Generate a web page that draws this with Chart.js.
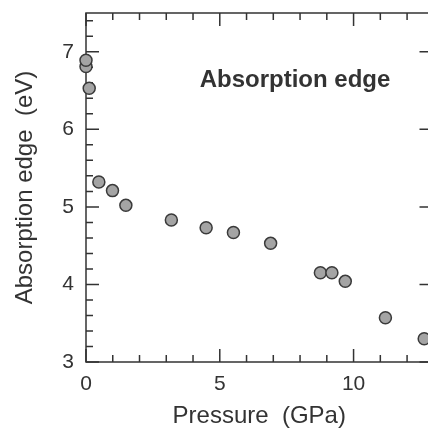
<!DOCTYPE html>
<html lang="en">
<head>
    <meta charset="UTF-8" />
    <title>Absorption edge</title>
    <script src="https://cdn.jsdelivr.net/npm/chart.js"></script>
    <style>
        html, body {
            margin: 0;
            padding: 0;
            background: #fff;
            overflow: hidden;
            width: 428px;
            height: 431px;
        }
        #wrap {
            width: 440px;
            height: 431px;
        }
    </style>
</head>
<body>
    <div id="wrap"><canvas id="edgeChart" width="440" height="431"></canvas></div>

    <script>
        // data
        const pressure = [0, 0, 0.12, 0.48, 0.99, 1.49, 3.19, 4.49, 5.51, 6.9, 8.76, 9.19, 9.69, 11.19, 12.64];
        const edgeEv   = [6.81, 6.89, 6.53, 5.32, 5.21, 5.02, 4.83, 4.73, 4.67, 4.53, 4.15, 4.15, 4.04, 3.57, 3.30];
        const xTicks = [0, 5, 10];
        const yTicks = [3, 4, 5, 6, 7];

        const ink = '#333333';
        const font = '"Liberation Sans", Arial, sans-serif';

        // frame with inward ticks (minor ticks only on left / top / bottom)
        const framePlugin = {
            id: 'frame',
            beforeDatasetsDraw(chart) {
                const { ctx, chartArea: a, scales: { x, y } } = chart;
                ctx.save();
                ctx.strokeStyle = ink;
                ctx.lineWidth = 1.5;
                ctx.beginPath();
                ctx.rect(a.left, a.top, a.right - a.left, a.bottom - a.top);
                ctx.stroke();

                ctx.beginPath();
                for (let v = 0; v <= x.max + 0.001; v += 1) {
                    const px = x.getPixelForValue(v);
                    const len = v % 5 === 0 ? 13 : 7;
                    ctx.moveTo(px, a.bottom); ctx.lineTo(px, a.bottom - len);
                    ctx.moveTo(px, a.top); ctx.lineTo(px, a.top + len);
                }
                for (let i = 0; i * 0.2 <= y.max - y.min + 0.001; i++) {
                    const py = y.getPixelForValue(y.min + i * 0.2);
                    const major = i % 5 === 0;
                    ctx.moveTo(a.left, py); ctx.lineTo(a.left + (major ? 13 : 7), py);
                    if (major) { ctx.moveTo(a.right, py); ctx.lineTo(a.right - 13, py); }
                }
                ctx.stroke();

                ctx.fillStyle = ink;
                ctx.font = 'bold 24px ' + font;
                ctx.textAlign = 'center';
                ctx.textBaseline = 'middle';
                ctx.fillText('Absorption edge', 295, 80);
                ctx.restore();
            }
        };

        new Chart(document.getElementById('edgeChart'), {
            type: 'scatter',
            data: {
                datasets: [{
                    data: pressure.map((p, i) => ({ x: p, y: edgeEv[i] })),
                    backgroundColor: '#a4a4a4',
                    borderColor: '#3a3a3a',
                    borderWidth: 1.5,
                    pointRadius: 6,
                    clip: false
                }]
            },
            options: {
                responsive: false,
                animation: false,
                layout: { padding: { top: 13, right: 6, left: 0, bottom: 0 } },
                plugins: {
                    legend: { display: false },
                    tooltip: { enabled: false }
                },
                scales: {
                    x: {
                        type: 'linear',
                        min: 0,
                        max: 12.95,
                        afterFit: s => { s.height = 69; s.paddingLeft = 0; s.paddingRight = 0; },
                        afterBuildTicks: s => { s.ticks = xTicks.map(v => ({ value: v })); },
                        grid: { display: false, drawTicks: false },
                        border: { display: false },
                        ticks: { color: ink, padding: 10, font: { family: font, size: 21 } },
                        title: {
                            display: true,
                            text: 'Pressure  (GPa)',
                            color: ink,
                            font: { family: font, size: 24 },
                            padding: { top: 0, bottom: 0 }
                        }
                    },
                    y: {
                        min: 3,
                        max: 7.5,
                        afterFit: s => { s.width = 86; s.paddingTop = 0; s.paddingBottom = 0; },
                        afterBuildTicks: s => { s.ticks = yTicks.map(v => ({ value: v })); },
                        grid: { display: false, drawTicks: false },
                        border: { display: false },
                        ticks: { color: ink, padding: 12, font: { family: font, size: 21 } },
                        title: {
                            display: true,
                            text: 'Absorption edge  (eV)',
                            color: ink,
                            font: { family: font, size: 24 },
                            padding: { top: 11, bottom: 0 }
                        }
                    }
                }
            },
            plugins: [framePlugin]
        });
    </script>
</body>
</html>
